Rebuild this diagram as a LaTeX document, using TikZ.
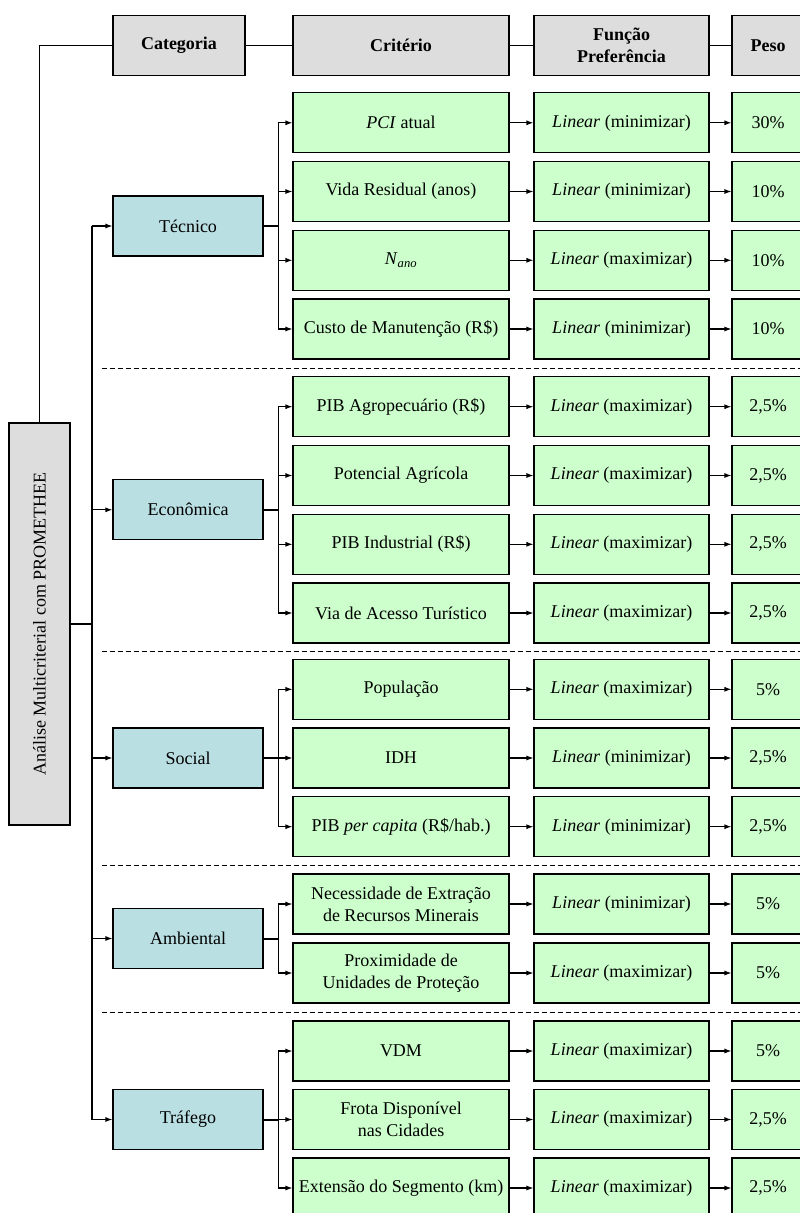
\documentclass[tikz,border=0pt]{standalone}
\usepackage{fontspec}
\setmainfont{Liberation Serif}
\usetikzlibrary{arrows.meta}

\definecolor{hdrgray}{RGB}{221,221,221}
\definecolor{catteal}{RGB}{185,223,227}
\definecolor{critgreen}{RGB}{204,255,204}

\begin{document}
\begin{tikzpicture}[x=1pt,y=-1pt,
  font=\fontsize{18}{22}\selectfont,
  box/.style={draw,line width=1.1pt,minimum height=60pt,inner xsep=2pt,align=center},
  hdr/.style={box,fill=hdrgray,font=\fontsize{18}{22}\selectfont\bfseries},
  catbox/.style={box,fill=catteal,minimum width=150pt},
  critbox/.style={box,fill=critgreen,minimum width=216pt},
  funbox/.style={box,fill=critgreen,minimum width=175pt},
  pesobox/.style={box,fill=critgreen,minimum width=72pt},
  arr/.style={line width=1.1pt,-{Latex[length=7pt,width=5pt]}},
  bus/.style={line width=2pt},
  grpsep/.style={line width=0.9pt,dash pattern=on 5pt off 3pt}]
  \useasboundingbox (0,0) rectangle (800,1213);
  \clip (0,0) rectangle (800,1213);

  % headers
  \node[hdr,minimum width=132pt] (hcat) at (179,45.5) {Categoria};
  \node[hdr,minimum width=216pt] (hcrit) at (401,45.5) {Critério};
  \node[hdr,minimum width=175pt] (hfun) at (621.5,45.5) {Função\\Preferência};
  \node[hdr,minimum width=72pt] (hpeso) at (768,45.5) {Peso};
  \draw[line width=1.1pt] (hcat.east) -- (hcrit.west) (hcrit.east) -- (hfun.west)
     (hfun.east) -- (hpeso.west);

  % method
  \node[box,fill=hdrgray,minimum width=61pt,minimum height=402pt] (ana) at (39.5,624)
     {\rotatebox{90}{Análise Multicriterial com PROMETHEE}};
  \draw[line width=1.1pt] (hcat.west) -| (ana.north);

  % categories
  \node[catbox] (tec) at (188,226) {Técnico};
  \node[catbox] (eco) at (188,509.8) {Econômica};
  \node[catbox] (soc) at (188,758) {Social};
  \node[catbox] (amb) at (188,938.5) {Ambiental};
  \node[catbox] (tra) at (188,1119.5) {Tráfego};

  % criteria, preference function and weight
  \foreach \k/\y/\crit/\func/\wt in {
    1/122.8/{\textit{PCI} atual}/minimizar/{30\%},
    2/191.5/{Vida Residual (anos)}/minimizar/{10\%},
    3/260.3/{\textit{N}\textsubscript{\textit{ano}}}/maximizar/{10\%},
    4/329/{Custo de Manutenção (R\$)}/minimizar/{10\%},
    5/406.7/{PIB Agropecuário (R\$)}/maximizar/{2,5\%},
    6/475.5/{Potencial Agrícola}/maximizar/{2,5\%},
    7/544.3/{PIB Industrial (R\$)}/maximizar/{2,5\%},
    8/613/{Via de Acesso Turístico}/maximizar/{2,5\%},
    9/689.3/{População}/maximizar/{5\%},
    10/758/{IDH}/minimizar/{2,5\%},
    11/826.7/{PIB \textit{per capita} (R\$\slash hab.)}/minimizar/{2,5\%},
    12/904/{Necessidade de Extração\\de Recursos Minerais}/minimizar/{5\%},
    13/973/{Proximidade de\\Unidades de Proteção}/maximizar/{5\%},
    14/1051/{VDM}/maximizar/{5\%},
    15/1119.5/{Frota Disponível\\nas Cidades}/maximizar/{2,5\%},
    16/1188/{Extensão do Segmento (km)}/maximizar/{2,5\%}}{
    \node[critbox] (cr\k) at (401,\y) {\crit};
    \node[funbox] (fn\k) at (621.5,\y) {\textit{Linear} (\func)};
    \node[pesobox] (pw\k) at (768,\y) {\wt};
    \draw[arr] (cr\k) -- (fn\k);
    \draw[arr] (fn\k) -- (pw\k);
  }

  % method -> categories
  \draw[bus] (ana.east) -- ++(21,0) coordinate (b);
  \draw[bus] (b |- tec.west) -- (b |- tra.west);
  \foreach \c in {tec,eco,soc,amb,tra}
    \draw[arr] (b |- \c.west) -- (\c.west);

  % categories -> criteria
  \foreach \c/\first/\last in {tec/1/4,eco/5/8,soc/9/11,amb/12/13,tra/14/16}{
    \draw[bus] (\c.east) -- ++(15,0) coordinate (s\c);
    \foreach \k in {\first,...,\last}
      \draw[arr] (s\c) |- (cr\k.west);
  }

  % group separators
  \foreach \y in {368,651,865,1012}
    \draw[grpsep] (102,\y) -- (800,\y);
\end{tikzpicture}
\end{document}
